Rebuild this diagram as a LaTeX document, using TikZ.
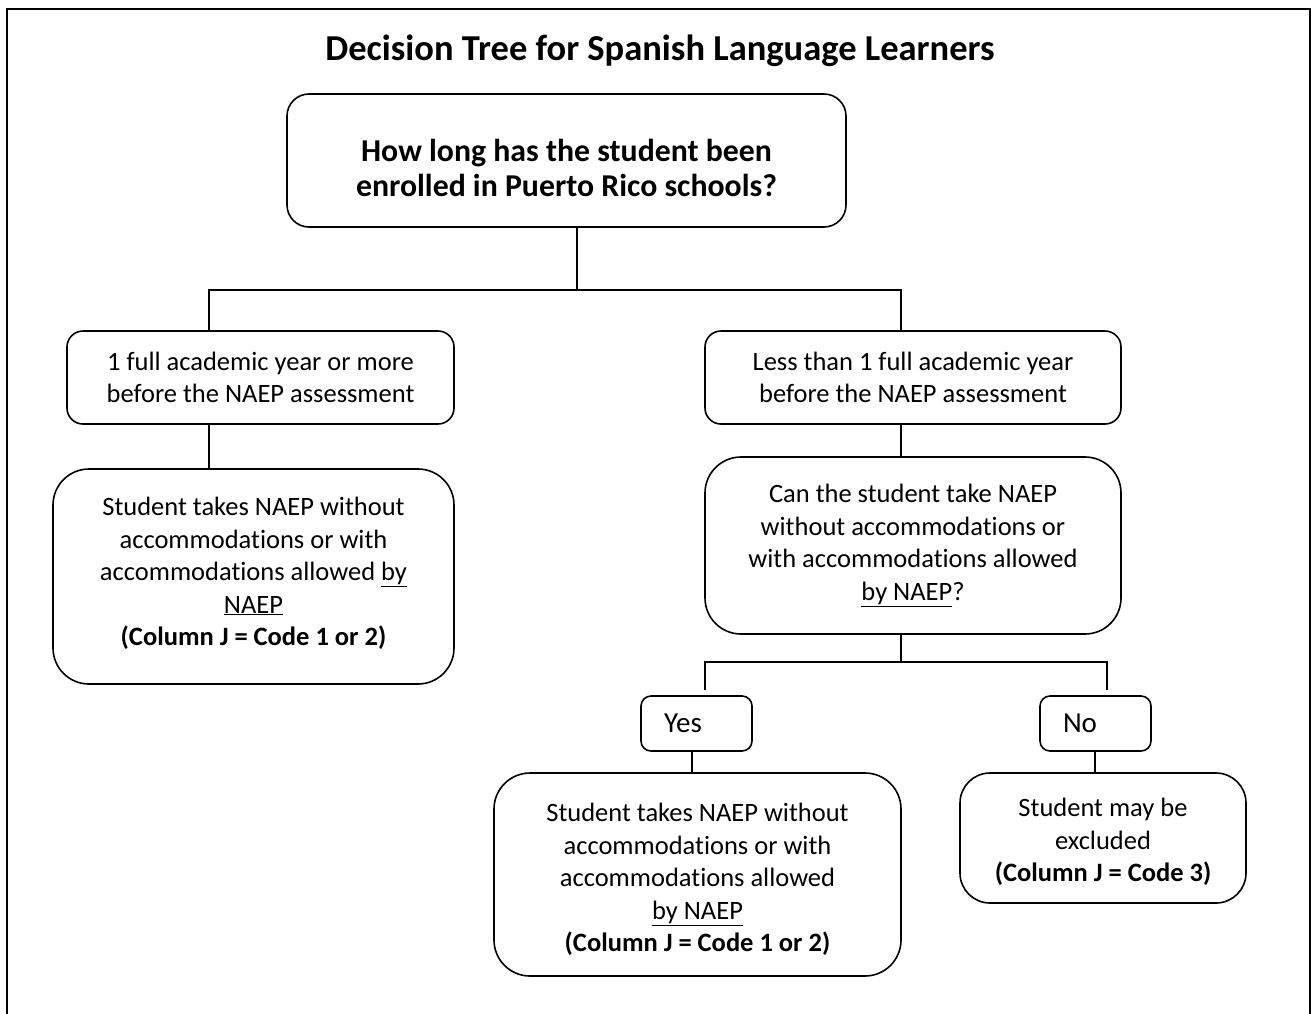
\documentclass[tikz,border=0pt]{standalone}
\usepackage{fontspec}
\setmainfont{Carlito}[Ligatures={NoCommon}]
\usetikzlibrary{calc}
\newcommand{\shiftdown}[2]{\raisebox{-#1}[\height][\depth]{#2}}
\begin{document}
\begin{tikzpicture}[x=1pt,y=-1pt,
  box/.style={draw,line width=1.6pt,rounded corners=#1,inner sep=0pt,align=center,
    font=\fontsize{26.5}{32.5}\selectfont},
  box/.default=16pt,
  answer/.style={box=10pt,minimum width=111pt,minimum height=55pt,align=left,
    text width=65pt,inner xsep=23pt,font=\fontsize{29}{34}\selectfont},
  conn/.style={line width=1.4pt},
  frame/.style={line width=2.2pt}]
\useasboundingbox (0,0) rectangle (1311,1013);
\draw[frame] (7,1014) -- (7,9) -- (1310,9) -- (1310,1014);

\node[anchor=base,font=\fontsize{36.5}{42}\selectfont\bfseries] (title) at (660,60)
  {Decision Tree for Spanish Language Learners};

\node[box=22pt,minimum width=559pt,minimum height=133pt,
  font=\fontsize{31.8}{35}\selectfont\bfseries] (q1) at (566.5,160.5)
  {\shiftdown{7.5pt}{\parbox{540pt}{\centering How long has the student been\\enrolled in Puerto Rico schools?}}};

\node[box,minimum width=387pt,minimum height=93pt] (a1) at (260.5,377.5)
  {1 full academic year or more\\before the NAEP assessment};
\node[box,minimum width=416pt,minimum height=93pt] (a2) at (913,377.5)
  {Less than 1 full academic year\\before the NAEP assessment};

\node[box=36pt,minimum width=401pt,minimum height=215pt] (r1) at (253.5,576.5)
  {\shiftdown{-3pt}{\parbox{380pt}{\centering Student takes NAEP without\\accommodations or with\\accommodations allowed \underline{by}\\\underline{NAEP}\\\textbf{(Column J = Code 1 or 2)}}}};

\node[box=36pt,minimum width=416pt,minimum height=177pt] (q2) at (913,545.5)
  {Can the student take NAEP\\without accommodations or\\with accommodations allowed\\\underline{by NAEP}?};

\node[answer] (yes) at (696.5,723.5) {Yes};
\node[answer] (no) at (1095.5,723.5) {No};

\node[box=36pt,minimum width=407pt,minimum height=203pt] (r2) at (697.5,874.5)
  {\shiftdown{5pt}{\parbox{390pt}{\centering Student takes NAEP without\\accommodations or with\\accommodations allowed\\\underline{by NAEP}\\\textbf{(Column J = Code 1 or 2)}}}};

\node[box=30pt,minimum width=286pt,minimum height=130pt] (r3) at (1103,838)
  {\shiftdown{4pt}{\parbox{270pt}{\centering Student may be\\excluded\\\textbf{(Column J = Code 3)}}}};

% connectors
\coordinate (j1) at (577,290);
\coordinate (j1l) at (209,290);
\coordinate (j1r) at (901,290);
\draw[conn] (q1.south -| j1) -- (j1);
\draw[conn] (a1.north -| j1l) -- (j1l) -- (j1r) -- (a2.north -| j1r);
\draw[conn] (a1.south -| j1l) -- (r1.north -| j1l);
\draw[conn] (a2.south -| j1r) -- (q2.north -| j1r);

\coordinate (j2) at (901,662);
\coordinate (j2l) at (705,662);
\coordinate (j2r) at (1107,662);
\coordinate (e2l) at (705,690);
\coordinate (e2r) at (1107,690);
\draw[conn] (q2.south -| j2) -- (j2);
\draw[conn] (e2l) -- (j2l) -- (j2r) -- (e2r);

\coordinate (xy) at (692,0);
\coordinate (xn) at (1095,0);
\draw[conn] (yes.south -| xy) -- (r2.north -| xy);
\draw[conn] (no.south -| xn) -- (r3.north -| xn);
\end{tikzpicture}
\end{document}
